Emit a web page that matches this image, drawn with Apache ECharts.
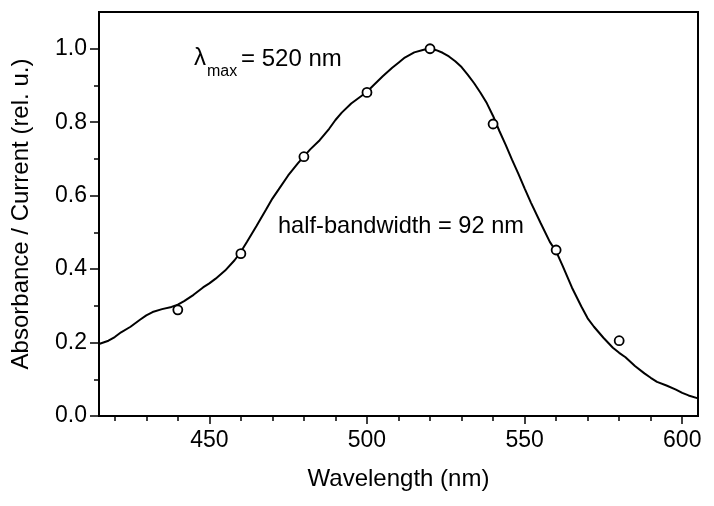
<!DOCTYPE html>
<html>
<head>
<meta charset="utf-8">
<script src="https://cdn.jsdelivr.net/npm/echarts@6/dist/echarts.min.js"></script>
<style>
html,body{margin:0;padding:0;background:#fff;}
#chart{width:714px;height:506px;}
</style>
</head>
<body>
<div id="chart"></div>
<script>
// Fitted spectrum (solid line)
var curveWavelength = [415,418,420,422,425,428,430,432,435,438,440,442,445,448,450,452,455,458,460,462,465,468,470,472,475,478,480,482,485,488,490,492,495,498,500,502,505,508,510,512,515,518,520,522,524,526,528,530,532,534,536,538,540,542,544,546,548,550,552,555,558,560,562,565,568,570,572,575,578,580,582,585,588,590,592,595,598,600,602,605];
var curveValue = [0.196,0.205,0.215,0.228,0.243,0.262,0.274,0.283,0.291,0.297,0.303,0.313,0.330,0.350,0.361,0.374,0.396,0.424,0.447,0.475,0.518,0.562,0.592,0.617,0.655,0.687,0.707,0.726,0.751,0.782,0.806,0.826,0.851,0.870,0.883,0.900,0.925,0.948,0.962,0.976,0.990,0.997,1.000,0.996,0.989,0.979,0.966,0.950,0.929,0.906,0.880,0.852,0.817,0.776,0.738,0.698,0.660,0.620,0.581,0.527,0.474,0.448,0.410,0.350,0.298,0.266,0.243,0.213,0.186,0.172,0.160,0.136,0.116,0.104,0.093,0.083,0.072,0.063,0.056,0.048];
// Measured points (open circles)
var pointWavelength = [440,460,480,500,520,540,560,580];
var pointValue = [0.289,0.442,0.706,0.881,1.000,0.795,0.452,0.205];
// Tick values
var xMajorTicks = [450,500,550,600];
var xMinorTicks = [420,430,440,460,470,480,490,510,520,530,540,560,570,580,590];
var yMajorTicks = [0.0,0.2,0.4,0.6,0.8,1.0];
var yMinorTicks = [0.1,0.3,0.5,0.7,0.9];

var FONT = 'Liberation Sans, Arial, sans-serif';
var chart = echarts.init(document.getElementById('chart'), null, {renderer:'canvas'});

function zip(a,b){var r=[];for(var i=0;i<a.length;i++){r.push([a[i],b[i]]);}return r;}

var option = {
  backgroundColor:'#ffffff',
  animation:false,
  grid:{left:99,right:16,top:12,bottom:90,show:true,borderColor:'#000',borderWidth:2,backgroundColor:'transparent'},
  xAxis:[
    {type:'value',min:415,max:605,position:'bottom',
     name:'Wavelength (nm)',nameLocation:'middle',nameGap:51,
     nameTextStyle:{fontFamily:FONT,fontSize:24,color:'#000'},
     axisLine:{show:true,onZero:false,lineStyle:{color:'#000',width:2}},
     axisTick:{show:true,inside:false,length:8,customValues:xMajorTicks,lineStyle:{color:'#000',width:1.5}},
     axisLabel:{show:true,margin:13,customValues:xMajorTicks,fontFamily:FONT,fontSize:23,color:'#000'},
     splitLine:{show:false}},
    {type:'value',min:415,max:605,position:'bottom',gridIndex:0,
     axisLine:{show:false,onZero:false},
     axisTick:{show:true,inside:false,length:5,customValues:xMinorTicks,lineStyle:{color:'#000',width:1.5}},
     axisLabel:{show:false},splitLine:{show:false}}
  ],
  yAxis:[
    {type:'value',min:0,max:1.1,position:'left',
     name:'Absorbance / Current (rel. u.)',nameLocation:'middle',nameGap:66,
     nameTextStyle:{fontFamily:FONT,fontSize:24,color:'#000'},
     axisLine:{show:true,onZero:false,lineStyle:{color:'#000',width:2}},
     axisTick:{show:true,inside:false,length:9,customValues:yMajorTicks,lineStyle:{color:'#000',width:1.5}},
     axisLabel:{show:true,margin:12,customValues:yMajorTicks,fontFamily:FONT,fontSize:23,color:'#000',
       formatter:function(v){return Number(v).toFixed(1);}},
     splitLine:{show:false}},
    {type:'value',min:0,max:1.1,position:'left',gridIndex:0,
     axisLine:{show:false,onZero:false},
     axisTick:{show:true,inside:false,length:5,customValues:yMinorTicks,lineStyle:{color:'#000',width:1.5}},
     axisLabel:{show:false},splitLine:{show:false}}
  ],
  series:[
    {type:'line',xAxisIndex:0,yAxisIndex:0,data:zip(curveWavelength,curveValue),
     showSymbol:false,smooth:false,lineStyle:{color:'#000',width:2},z:2},
    {type:'scatter',xAxisIndex:0,yAxisIndex:0,data:zip(pointWavelength,pointValue),
     symbol:'circle',symbolSize:9,
     itemStyle:{color:'#fff',borderColor:'#000',borderWidth:1.8,opacity:1},z:3}
  ],
  graphic:[
    {type:'text',left:194,top:46,style:{text:'λ',fontFamily:FONT,fontSize:24,fill:'#000'}},
    {type:'text',left:207,top:64,style:{text:'max',fontFamily:FONT,fontSize:16,fill:'#000'}},
    {type:'text',left:241,top:47,style:{text:'= 520 nm',fontFamily:FONT,fontSize:24,fill:'#000'}},
    {type:'text',left:278,top:214,style:{text:'half-bandwidth = 92 nm',fontFamily:FONT,fontSize:23.6,fill:'#000'}}
  ]
};
chart.setOption(option);
</script>
</body>
</html>
